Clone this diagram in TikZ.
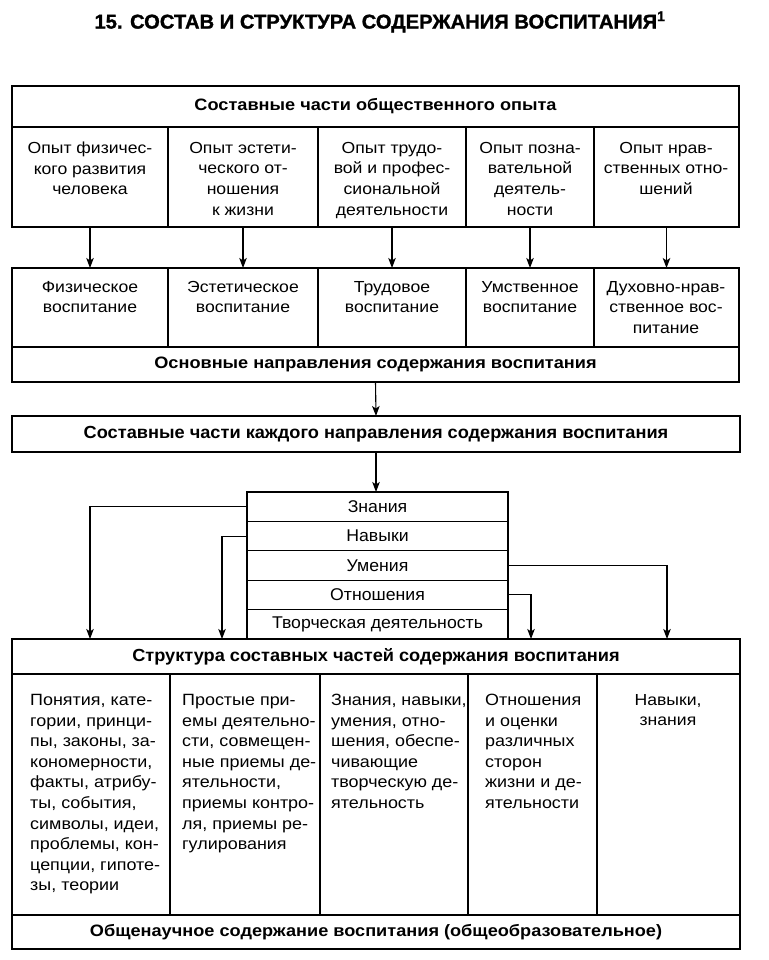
\documentclass[tikz,border=0pt]{standalone}
\usepackage{fontspec}
\setmainfont[FakeStretch=1.1]{Liberation Sans}
\newfontfamily\narrowfont[FakeStretch=1.04]{Liberation Sans}
\newfontfamily\titlefont[FakeStretch=1.01,BoldFeatures={FakeBold=1.3}]{Liberation Sans}
\usetikzlibrary{calc,arrows.meta}

\begin{document}
\begin{tikzpicture}[x=1pt,y=-1pt,
	frame/.style={draw,line width=1.8pt,inner sep=0pt,outer sep=0pt,anchor=north west},
	cell/.style={draw,line width=1.2pt,inner sep=0pt,outer sep=0pt,anchor=north west},
	txt/.style={anchor=north,align=center,inner sep=0pt,font=\fontsize{16}{20.6}\selectfont},
	coltxt/.style={anchor=north west,align=left,inner sep=0pt,font=\fontsize{16.3}{20.6}\selectfont},
	head/.style={inner sep=0pt,font=\bfseries\fontsize{16.5}{19}\selectfont},
	narrowhead/.style={inner sep=0pt,font=\narrowfont\bfseries\fontsize{17.5}{19}\selectfont},
	stack/.style={minimum width=261pt,minimum height=29.4pt,font=\narrowfont\fontsize{17}{19}\selectfont},
	arr/.style={-{Stealth[length=10pt,width=7.5pt,inset=2.5pt]},line width=1.1pt}]
	\useasboundingbox (0,0) rectangle (768,960);
	\node[inner sep=0pt,font=\titlefont\bfseries\fontsize{20}{22}\selectfont] (title) at (380,22) {15. СОСТАВ И СТРУКТУРА СОДЕРЖАНИЯ ВОСПИТАНИЯ\textsuperscript{1}};

	\node[frame,minimum width=727pt,minimum height=41pt] (opyt) at (12,86) {};
	\node[head] (opytt) at (opyt.center) {Составные части общественного опыта};
	\node[cell,minimum width=156pt,minimum height=100pt] (op1) at (12,127) {};
	\node[cell,minimum width=150pt,minimum height=100pt] (op2) at (168,127) {};
	\node[cell,minimum width=148pt,minimum height=100pt] (op3) at (318,127) {};
	\node[cell,minimum width=128pt,minimum height=100pt] (op4) at (466,127) {};
	\node[cell,minimum width=145pt,minimum height=100pt] (op5) at (594,127) {};
	\node[txt] (op1t) at (90,142) {Опыт физичес-\\кого развития\\человека};
	\node[txt] (op2t) at (243,142) {Опыт эстети-\\ческого от-\\ношения\\к жизни};
	\node[txt] (op3t) at (392,142) {Опыт трудо-\\вой и профес-\\сиональной\\деятельности};
	\node[txt] (op4t) at (530,142) {Опыт позна-\\вательной\\деятель-\\ности};
	\node[txt] (op5t) at (666,142) {Опыт нрав-\\ственных отно-\\шений};

	\node[cell,minimum width=156pt,minimum height=79pt] (vos1) at (12,268) {};
	\node[cell,minimum width=150pt,minimum height=79pt] (vos2) at (168,268) {};
	\node[cell,minimum width=148pt,minimum height=79pt] (vos3) at (318,268) {};
	\node[cell,minimum width=128pt,minimum height=79pt] (vos4) at (466,268) {};
	\node[cell,minimum width=145pt,minimum height=79pt] (vos5) at (594,268) {};
	\node[txt] (vos1t) at (90,281) {Физическое\\воспитание};
	\node[txt] (vos2t) at (243,281) {Эстетическое\\воспитание};
	\node[txt] (vos3t) at (392,281) {Трудовое\\воспитание};
	\node[txt] (vos4t) at (530,281) {Умственное\\воспитание};
	\node[txt] (vos5t) at (666,281) {Духовно-нрав-\\ственное вос-\\питание};
	\node[frame,minimum width=727pt,minimum height=35pt] (osn) at (12,347) {};
	\node[head] (osnt) at (osn.center) {Основные направления содержания воспитания};

	\draw[arr] (op1.south) -- (vos1.north);
	\draw[arr] (op2.south) -- (vos2.north);
	\draw[arr] (op3.south) -- (vos3.north);
	\draw[arr] (op4.south) -- (vos4.north);
	\draw[arr] (op5.south) -- (vos5.north);

	\node[frame,minimum width=728pt,minimum height=36pt] (kazh) at (12,416) {};
	\node[narrowhead] (kazht) at (kazh.center) {Составные части каждого направления содержания воспитания};
	\draw[arr] (osn.south) -- (kazh.north);

	\node[cell,stack] (znan) at (247,492) {Знания};
	\node[cell,stack] (navy) at (247,521.4) {Навыки};
	\node[cell,stack] (umen) at (247,550.8) {Умения};
	\node[cell,stack] (otno) at (247,580.2) {Отношения};
	\node[cell,stack] (tvor) at (247,609.6) {Творческая деятельность};
	\draw[arr] (kazh.south) -- (kazh.south |- znan.north);

	\node[frame,minimum width=728pt,minimum height=35pt] (strk) at (12,639) {};
	\node[narrowhead] (strkt) at (strk.center) {Структура составных частей содержания воспитания};
	\coordinate (in1) at (90,639);
	\coordinate (in2) at (222,639);
	\coordinate (in3) at (531,639);
	\coordinate (in4) at (667,639);
	\draw[arr] (znan.west) -| (in1);
	\draw[arr] (navy.west) -| (in2);
	\draw[arr] (otno.east) -| (in3);
	\draw[arr] (umen.east) -| (in4);

	\node[cell,minimum width=158pt,minimum height=241pt] (col1) at (12,674) {};
	\node[cell,minimum width=150pt,minimum height=241pt] (col2) at (170,674) {};
	\node[cell,minimum width=148pt,minimum height=241pt] (col3) at (320,674) {};
	\node[cell,minimum width=129pt,minimum height=241pt] (col4) at (468,674) {};
	\node[cell,minimum width=143pt,minimum height=241pt] (col5) at (597,674) {};
	\node[coltxt] (col1t) at (30,694) {Понятия, кате-\\гории, принци-\\пы, законы, за-\\кономерности,\\факты, атрибу-\\ты, события,\\символы, идеи,\\проблемы, кон-\\цепции, гипоте-\\зы, теории};
	\node[coltxt] (col2t) at (182,694) {Простые при-\\емы деятельно-\\сти, совмещен-\\ные приемы де-\\ятельности,\\приемы контро-\\ля, приемы ре-\\гулирования};
	\node[coltxt] (col3t) at (331,694) {Знания, навыки,\\умения, отно-\\шения, обеспе-\\чивающие\\творческую де-\\ятельность};
	\node[coltxt] (col4t) at (485,694) {Отношения\\и оценки\\различных\\сторон\\жизни и де-\\ятельности};
	\node[txt] (col5t) at (668,694) {Навыки,\\знания};
	\node[frame,minimum width=728pt,minimum height=34pt] (obsh) at (12,915) {};
	\node[head] (obsht) at (obsh.center) {Общенаучное содержание воспитания (общеобразовательное)};
\end{tikzpicture}
\end{document}
